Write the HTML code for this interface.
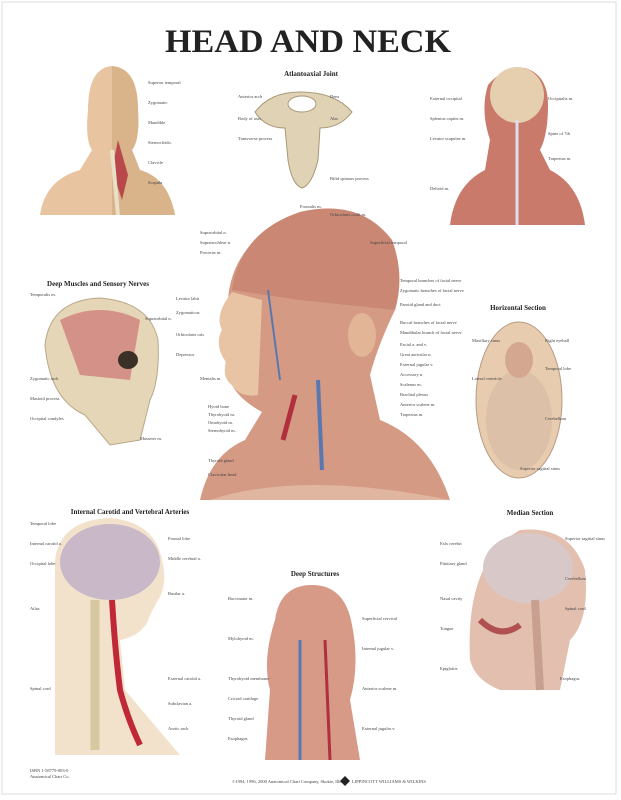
<!DOCTYPE html>
<html><head><meta charset="utf-8"><style>
html,body{margin:0;padding:0;background:#fff;}
svg{display:block;}
.t{font-family:"Liberation Serif",serif;font-weight:bold;fill:#222;}
.l{font-family:"Liberation Serif",serif;font-size:4.5px;fill:#444;}
</style></head><body>
<svg width="621" height="800" viewBox="0 0 621 800">
<rect x="0" y="0" width="621" height="800" fill="#fff"/>
<rect x="2" y="2" width="614" height="792" fill="none" stroke="#ddd" stroke-width="1"/>
<text x="308" y="52" text-anchor="middle" class="t" font-size="33" textLength="286" lengthAdjust="spacingAndGlyphs" fill="#111">HEAD AND NECK</text>

<text x="311" y="76" text-anchor="middle" class="t" font-size="7">Atlantoaxial Joint</text>
<text x="98" y="286" text-anchor="middle" class="t" font-size="7">Deep Muscles and Sensory Nerves</text>
<text x="518" y="310" text-anchor="middle" class="t" font-size="7">Horizontal Section</text>
<text x="130" y="514" text-anchor="middle" class="t" font-size="7">Internal Carotid and Vertebral Arteries</text>
<text x="315" y="576" text-anchor="middle" class="t" font-size="7">Deep Structures</text>
<text x="530" y="515" text-anchor="middle" class="t" font-size="7">Median Section</text>

<!-- top-left man -->
<path d="M40,215 Q45,180 80,170 L92,150 Q85,140 88,110 Q88,68 112,66 Q138,68 138,110 Q140,140 132,150 L140,170 Q168,178 175,215 Z" fill="#e8c4a0"/>
<path d="M112,66 Q138,68 138,110 Q140,140 132,150 L140,170 Q168,178 175,215 L112,215 Z" fill="#d9b48a"/>
<path d="M118,140 L128,175 L122,200 L112,170 Z" fill="#b8484a"/>
<path d="M112,150 L118,215" stroke="#e8e0c8" stroke-width="4"/>
<!-- atlas -->
<path d="M255,112 Q270,92 300,92 Q335,92 352,112 Q340,128 320,128 L318,160 Q312,185 302,188 Q292,185 288,160 L285,128 Q265,128 255,112 Z" fill="#e0d2b4" stroke="#a89878" stroke-width="1"/>
<ellipse cx="302" cy="104" rx="14" ry="8" fill="#fff" stroke="#a89878"/>
<!-- back of neck -->
<path d="M450,225 Q455,185 485,170 L490,140 Q480,110 488,85 Q505,65 525,68 Q548,75 548,105 Q548,135 540,150 L550,170 Q580,185 585,225 Z" fill="#c97a6a"/>
<ellipse cx="517" cy="95" rx="27" ry="28" fill="#e6cfae"/>
<path d="M517,120 L517,225" stroke="#dde" stroke-width="3"/>
<!-- central head -->
<path d="M200,500 Q210,455 245,440 L262,412 Q240,400 232,385 Q222,378 226,362 Q214,345 222,330 Q218,315 228,300 Q232,240 300,212 Q360,198 392,240 Q405,275 395,310 Q378,345 370,375 L380,420 Q430,440 450,500 Z" fill="#d49a84"/>
<path d="M232,290 Q240,232 300,212 Q360,198 392,240 Q405,275 395,310 L300,300 Z" fill="#c98774"/>
<path d="M222,330 Q214,315 232,292 L262,300 L258,395 Q240,398 232,385 Q222,378 226,362 Q214,345 222,330 Z" fill="#e8c4a4"/>
<ellipse cx="362" cy="335" rx="14" ry="22" fill="#e2b597"/>
<path d="M318,380 L322,470" stroke="#5a78b0" stroke-width="4" fill="none"/>
<path d="M295,395 L283,440" stroke="#b03040" stroke-width="5"/>
<path d="M268,290 L280,380" stroke="#5a78b0" stroke-width="2"/>
<path d="M210,500 Q300,470 450,500 Z" fill="#e0b6a0"/>
<!-- skull -->
<path d="M45,345 Q50,300 100,298 Q150,302 158,340 Q160,380 150,400 L140,440 L110,445 L85,415 Q50,400 45,345 Z" fill="#e6d6b8" stroke="#b8a888"/>
<path d="M60,320 Q100,300 140,320 L130,380 L80,375 Z" fill="#d0807a" opacity=".8"/>
<ellipse cx="128" cy="360" rx="10" ry="9" fill="#3a3028"/>
<!-- horizontal section -->
<ellipse cx="519" cy="400" rx="43" ry="78" fill="#e8ccb0" stroke="#b89a80"/>
<ellipse cx="519" cy="420" rx="33" ry="50" fill="#dcc0a8"/>
<ellipse cx="519" cy="360" rx="14" ry="18" fill="#d4a890"/>
<!-- arteries figure -->
<path d="M55,560 Q60,520 110,518 Q155,522 162,560 Q168,585 158,600 L150,615 Q145,635 120,640 L125,690 Q150,720 180,755 L55,755 Z" fill="#f2e2cc"/>
<ellipse cx="110" cy="562" rx="50" ry="38" fill="#c8b8c8"/>
<path d="M95,600 L95,750" stroke="#d8c8a0" stroke-width="9"/>
<path d="M112,600 Q115,650 120,690 Q128,720 140,745" stroke="#c02838" stroke-width="6" fill="none"/>
<!-- deep structures -->
<path d="M265,760 L270,690 Q262,660 275,620 Q280,585 312,585 Q345,585 352,625 Q360,665 350,700 L360,760 Z" fill="#d69a86"/>
<path d="M300,640 L300,760" stroke="#5a78b0" stroke-width="3"/>
<path d="M325,640 L330,760" stroke="#b03040" stroke-width="3"/>
<!-- median section -->
<path d="M470,660 Q465,560 520,530 Q570,525 585,570 Q590,620 570,640 L560,690 L500,690 Q475,680 470,660 Z" fill="#e2bfae"/>
<ellipse cx="528" cy="568" rx="45" ry="35" fill="#d8c8c8"/>
<path d="M535,600 L540,690" stroke="#c8a090" stroke-width="8"/>
<path d="M480,620 Q500,640 520,625" stroke="#b05050" stroke-width="6" fill="none"/>

<!-- label lines -->
<g class="l">
<text x="148" y="84">Superior temporal</text><text x="148" y="104">Zygomatic</text><text x="148" y="124">Mandible</text><text x="148" y="144">Sternocleido.</text><text x="148" y="164">Clavicle</text><text x="148" y="184">Scapula</text>
<text x="238" y="98">Anterior arch</text><text x="238" y="120">Body of axis</text><text x="238" y="140">Transverse process</text><text x="330" y="98">Dens</text><text x="330" y="120">Alar</text><text x="330" y="180">Bifid spinous process</text>
<text x="430" y="100">External occipital</text><text x="430" y="120">Splenius capitis m.</text><text x="430" y="140">Levator scapulae m.</text><text x="430" y="190">Deltoid m.</text><text x="548" y="100">Occipitalis m.</text><text x="548" y="135">Spine of 7th</text><text x="548" y="160">Trapezius m.</text>
<text x="200" y="234">Supraorbital n.</text><text x="200" y="244">Supratrochlear n.</text><text x="200" y="254">Procerus m.</text>
<text x="176" y="300">Levator labii</text><text x="176" y="314">Zygomaticus</text><text x="176" y="336">Orbicularis oris</text><text x="176" y="356">Depressor</text><text x="200" y="380">Mentalis m.</text>
<text x="208" y="408">Hyoid bone</text><text x="208" y="416">Thyrohyoid m.</text><text x="208" y="424">Omohyoid m.</text><text x="208" y="432">Sternohyoid m.</text><text x="208" y="462">Thyroid gland</text><text x="208" y="476">Clavicular head</text>
<text x="400" y="282">Temporal branches of facial nerve</text><text x="400" y="292">Zygomatic branches of facial nerve</text><text x="400" y="306">Parotid gland and duct</text><text x="400" y="324">Buccal branches of facial nerve</text><text x="400" y="334">Mandibular branch of facial nerve</text>
<text x="400" y="346">Facial a. and v.</text><text x="400" y="356">Great auricular n.</text><text x="400" y="366">External jugular v.</text><text x="400" y="376">Accessory n.</text><text x="400" y="386">Scalenus m.</text><text x="400" y="396">Brachial plexus</text><text x="400" y="406">Anterior scalene m.</text><text x="400" y="416">Trapezius m.</text>
<text x="300" y="208">Frontalis m.</text><text x="330" y="216">Orbicularis oculi m.</text><text x="370" y="244">Superficial temporal</text>
<text x="30" y="296">Temporalis m.</text><text x="30" y="380">Zygomatic arch</text><text x="30" y="400">Mastoid process</text><text x="30" y="420">Occipital condyles</text><text x="140" y="440">Masseter m.</text><text x="145" y="320">Supraorbital n.</text>
<text x="472" y="342">Maxillary sinus</text><text x="472" y="380">Lateral ventricle</text><text x="545" y="342">Right eyeball</text><text x="545" y="370">Temporal lobe</text><text x="545" y="420">Cerebellum</text><text x="520" y="470">Superior sagittal sinus</text>
<text x="30" y="525">Temporal lobe</text><text x="30" y="545">Internal carotid a.</text><text x="30" y="565">Occipital lobe</text><text x="30" y="610">Atlas</text><text x="30" y="690">Spinal cord</text><text x="168" y="540">Frontal lobe</text><text x="168" y="560">Middle cerebral a.</text><text x="168" y="595">Basilar a.</text><text x="168" y="680">External carotid a.</text><text x="168" y="705">Subclavian a.</text><text x="168" y="730">Aortic arch</text>
<text x="228" y="600">Buccinator m.</text><text x="228" y="640">Mylohyoid m.</text><text x="228" y="680">Thyrohyoid membrane</text><text x="228" y="700">Cricoid cartilage</text><text x="228" y="720">Thyroid gland</text><text x="228" y="740">Esophagus</text><text x="362" y="620">Superficial cervical</text><text x="362" y="650">Internal jugular v.</text><text x="362" y="690">Anterior scalene m.</text><text x="362" y="730">External jugular v.</text>
<text x="440" y="545">Falx cerebri</text><text x="440" y="565">Pituitary gland</text><text x="440" y="600">Nasal cavity</text><text x="440" y="630">Tongue</text><text x="440" y="670">Epiglottis</text><text x="565" y="540">Superior sagittal sinus</text><text x="565" y="580">Cerebellum</text><text x="565" y="610">Spinal cord</text><text x="560" y="680">Esophagus</text>
<text x="290" y="783" text-anchor="middle">©1994, 1996, 2000 Anatomical Chart Company, Skokie, Illinois</text>
<text x="30" y="772">ISBN 1-58779-003-0</text><text x="30" y="778">Anatomical Chart Co.</text>
<text x="352" y="783">LIPPINCOTT WILLIAMS &amp; WILKINS</text>
</g>
<path d="M345,776 L350,781 L345,786 L340,781 Z" fill="#222"/>
</svg>
</body></html>
